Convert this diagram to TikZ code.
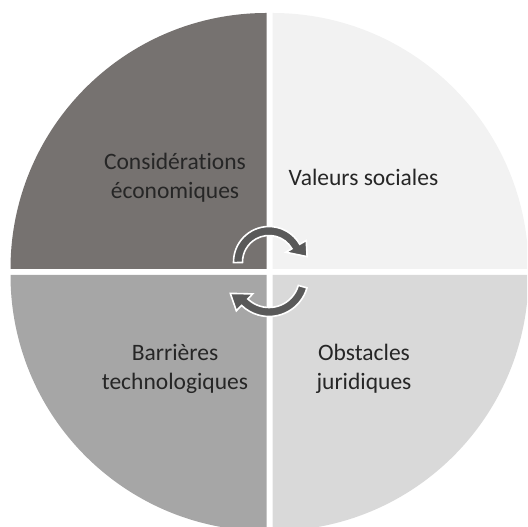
\documentclass[tikz,border=0pt]{standalone}
\usepackage{fontspec}
\setmainfont{Carlito}[Ligatures=NoCommon]
\usetikzlibrary{positioning}
\definecolor{quadbrown}{RGB}{118,114,112}
\definecolor{quadlight}{RGB}{242,242,242}
\definecolor{quadmid}{RGB}{166,166,166}
\definecolor{quadpale}{RGB}{217,217,217}
\definecolor{arrowgrey}{RGB}{89,89,89}

\begin{document}
\begin{tikzpicture}[x=1bp,y=1bp,
    quadtext/.style={align=center,font=\fontsize{23.6}{29}\selectfont,text=black!85},
    cyclearrow/.style={fill=arrowgrey,draw=white,line width=1.6bp,line join=miter}]
      \useasboundingbox (0,0) rectangle (527,527);
      \clip (0,0) rectangle (527,527);

      % Four quarters, pulled apart by a small gap
      \fill[quadbrown] (266.5,258) -- ++(90:256) arc[start angle=90,end angle=180,radius=256] -- cycle;
      \fill[quadlight] (272.5,258) -- ++(0:256) arc[start angle=0,end angle=90,radius=256] -- cycle;
      \fill[quadmid] (266.5,252) -- ++(180:256) arc[start angle=180,end angle=270,radius=256] -- cycle;
      \fill[quadpale] (272.5,252) -- ++(270:256) arc[start angle=270,end angle=360,radius=256] -- cycle;

      % Labels
      \node[quadtext] (eco) at (175,349.5) {Considérations\\économiques};
      \node[quadtext] (soc) at (363.5,350) {Valeurs sociales};
      \node[quadtext] (tech) at (175,158) {Barrières\\technologiques};
      \node[quadtext] (jur) at (364,158) {Obstacles\\juridiques};

      % Circular arrows in the middle
      \coordinate (upper) at (269,265);
      \coordinate (lower) at (269,250);
      \begin{scope}[shift={(upper)}]
        \filldraw[cyclearrow] (181:35.5) arc[start angle=181,end angle=30,radius=35.5]
          -- (30:43) -- (8:38.5) -- (30:19.5) -- (30:26.5)
          arc[start angle=30,end angle=181,radius=26.5] -- cycle;
      \end{scope}
      \begin{scope}[shift={(lower)}]
        \filldraw[cyclearrow] (-16:39.5) arc[start angle=-16,end angle=-134,radius=39.5]
          -- (-134:47) -- (-157:42) -- (-134:23.5) -- (-134:30.5)
          arc[start angle=-134,end angle=-16,radius=30.5] -- cycle;
      \end{scope}
    \end{tikzpicture}
\end{document}
